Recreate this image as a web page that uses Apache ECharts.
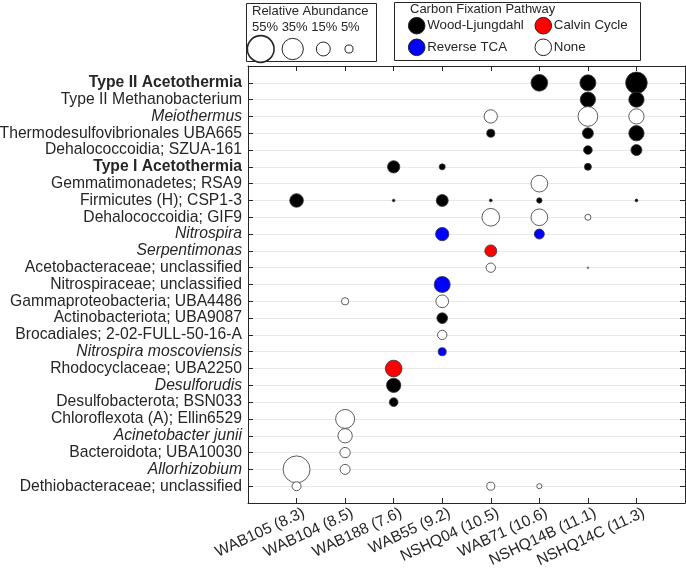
<!DOCTYPE html>
<html>
<head>
<meta charset="utf-8">
<script src="https://cdn.jsdelivr.net/npm/echarts@6/dist/echarts.min.js"></script>
<style>html,body{margin:0;padding:0;background:#fff}#c{width:686px;height:580px}</style>
</head>
<body>
<div id="c"></div>
<script>
// ---------- DATA ----------
const samples = ['WAB105 (8.3)','WAB104 (8.5)','WAB188 (7.6)','WAB55 (9.2)','NSHQ04 (10.5)','WAB71 (10.6)','NSHQ14B (11.1)','NSHQ14C (11.3)'];
const taxa = ['Type II Acetothermia','Type II Methanobacterium','Meiothermus','Thermodesulfovibrionales UBA665','Dehalococcoidia; SZUA-161','Type I Acetothermia','Gemmatimonadetes; RSA9','Firmicutes (H); CSP1-3','Dehalococcoidia; GIF9','Nitrospira','Serpentimonas','Acetobacteraceae; unclassified','Nitrospiraceae; unclassified','Gammaproteobacteria; UBA4486','Actinobacteriota; UBA9087','Brocadiales; 2-02-FULL-50-16-A','Nitrospira moscoviensis','Rhodocyclaceae; UBA2250','Desulforudis','Desulfobacterota; BSN033','Chloroflexota (A); Ellin6529','Acinetobacter junii','Bacteroidota; UBA10030','Allorhizobium','Dethiobacteraceae; unclassified'];
const taxaStyle = ['b','n','i','n','n','b','n','n','n','i','i','n','n','n','n','n','i','n','i','n','n','i','n','i','n'];
// pathway per taxon: W = Wood-Ljungdahl, C = Calvin Cycle, R = Reverse TCA, N = None
const taxaPathway = ['W','W','N','W','W','W','N','W','N','R','C','N','R','N','W','N','R','C','W','W','N','N','N','N','N'];
// relative abundance (%) per sample, indexed by taxon (null = absent)
const abWAB105  = [null,null,null,null,null,null,null,14.4,null,null,null,null,null,null,null,null,null,null,null,null,null,null,null,56,6.2];
const abWAB104  = [null,null,null,null,null,null,null,null,null,null,null,null,null,4.1,null,null,null,null,null,null,27.8,15.8,8.2,7.7,null];
const abWAB188  = [null,null,null,null,null,11.7,null,0.5,null,null,null,null,null,null,null,null,null,21.5,15.8,5.8,null,null,null,null,null];
const abWAB55   = [null,null,null,null,null,2.8,null,11,null,13.7,null,null,19.7,12.4,8.8,6.7,5,null,null,null,null,null,null,null,null];
const abNSHQ04  = [null,null,13.7,5,null,null,null,0.6,24,null,11,6.7,null,null,null,null,null,null,null,null,null,null,null,null,5];
const abWAB71   = [21.5,null,null,null,null,null,21.5,2.2,21.5,7.7,null,null,null,null,null,null,null,null,null,null,null,null,null,null,2];
const abNSHQ14B = [19.7,18,30,9.3,5.8,3.8,null,null,2.8,null,null,0.2,null,null,null,null,null,null,null,null,null,null,null,null,null];
const abNSHQ14C = [36,18,18,18,9.3,null,null,0.6,null,null,null,null,null,null,null,null,null,null,null,null,null,null,null,null,null];
const abundance = [abWAB105,abWAB104,abWAB188,abWAB55,abNSHQ04,abWAB71,abNSHQ14B,abNSHQ14C];
const sizeLegend = [55,35,15,5];
const pathways = [
  {key:'W', name:'Wood-Ljungdahl', color:'#000000'},
  {key:'C', name:'Calvin Cycle', color:'#ff0000'},
  {key:'R', name:'Reverse TCA', color:'#0000ff'},
  {key:'N', name:'None', color:'#ffffff'}
];

// ---------- CHART ----------
const FONT = 'Liberation Sans, Arial, Helvetica, sans-serif';
const TXT = '#262626';
const sizeOf = v => 3.6 * Math.sqrt(v);

const series = pathways.map(p => {
  const data = [];
  abundance.forEach((col, si) => {
    col.forEach((v, ti) => {
      if (v != null && taxaPathway[ti] === p.key) data.push([si + 1, ti + 1, v]);
    });
  });
  return {
    type: 'scatter', name: p.name, data: data, xAxisIndex: 0, yAxisIndex: 0,
    symbolSize: d => Math.max(sizeOf(d[2]), 1.5),
    itemStyle: {color: p.color, borderColor: '#333333', borderWidth: 0.8, opacity: 1},
    emphasis: {disabled: true}, z: 5
  };
});

const chart = echarts.init(document.getElementById('c'), null, {renderer: 'canvas'});

const legendGraphics = [];
// size legend box
legendGraphics.push({type:'rect', shape:{x:246.5, y:3.5, width:130, height:58}, style:{fill:'#fff', stroke:TXT, lineWidth:1}});
legendGraphics.push({type:'text', x:252, y:11, style:{text:'Relative Abundance', font:'13px '+FONT, fill:TXT, textVerticalAlign:'middle'}});
legendGraphics.push({type:'text', x:252, y:27, style:{text:sizeLegend.map(v=>v+'%').join(' '), font:'13px '+FONT, fill:TXT, textVerticalAlign:'middle'}});
const sizeCx = [260.7, 292.7, 323.3, 349];
sizeLegend.forEach((v, i) => {
  legendGraphics.push({type:'circle', shape:{cx:sizeCx[i], cy:49, r:sizeOf(v)/2}, style:{fill:'#fff', stroke:TXT, lineWidth: i===0?1.6:1}});
});
// pathway legend box
legendGraphics.push({type:'rect', shape:{x:394.5, y:2.5, width:246, height:58}, style:{fill:'#fff', stroke:TXT, lineWidth:1}});
legendGraphics.push({type:'text', x:410, y:9, style:{text:'Carbon Fixation Pathway', font:'13px '+FONT, fill:TXT, textVerticalAlign:'middle'}});
const lgPos = [[416.7,25.7],[543.3,25.7],[416.7,47.3],[543.3,47.3]];
pathways.forEach((p, i) => {
  legendGraphics.push({type:'circle', shape:{cx:lgPos[i][0], cy:lgPos[i][1], r:8.3}, style:{fill:p.color, stroke:'#222', lineWidth:1}});
  legendGraphics.push({type:'text', x:lgPos[i][0]+10.5, y:lgPos[i][1], style:{text:p.name, font:'13.3px '+FONT, fill:TXT, textVerticalAlign:'middle'}});
});

const lineOn = {show:true, onZero:false, lineStyle:{color:TXT, width:1}};
const tickIn = {show:true, inside:true, length:5, lineStyle:{color:TXT}};
const nX = samples.length + 1, nY = taxa.length + 1;
chart.setOption({
  animation: false,
  backgroundColor: '#fff',
  grid: [
    {left: 248, right: 1, top: 66, bottom: 77, containLabel: false, outerBoundsMode: 'none'},
    // label-only grid, shifted slightly right so rotated labels end just past their ticks
    {left: 252, right: -3, top: 66, bottom: 77, containLabel: false, outerBoundsMode: 'none'}
  ],
  xAxis: [
    {gridIndex:0, type:'value', min:0, max:nX, interval:1, position:'bottom',
     axisLine: lineOn, axisTick: tickIn, splitLine:{show:false}, axisLabel:{show:false}},
    {gridIndex:0, type:'value', min:0, max:nX, interval:1, position:'top',
     axisLine: lineOn, axisTick: tickIn, splitLine:{show:false}, axisLabel:{show:false}},
    {gridIndex:1, type:'value', min:0, max:nX, interval:1, position:'bottom',
     axisLine:{show:false}, axisTick:{show:false}, splitLine:{show:false},
     axisLabel:{rotate:25, margin:2, align:'right', verticalAlign:'top', fontSize:15.5, fontFamily:FONT, color:TXT,
       formatter: v => (v>=1 && v<=samples.length) ? samples[v-1] : ''}}
  ],
  yAxis: [
    {gridIndex:0, type:'value', min:0, max:nY, interval:1, inverse:true, position:'left',
     axisLine: lineOn, axisTick: tickIn,
     splitLine:{show:true, lineStyle:{color:'#e8e8e8', width:1}},
     axisLabel:{margin:6, fontSize:15.7, fontFamily:FONT, color:TXT,
       formatter: v => (v>=1 && v<=taxa.length) ? '{'+taxaStyle[v-1]+'|'+taxa[v-1]+'}' : '',
       rich:{
         n:{fontSize:15.7, fontFamily:FONT, color:TXT},
         b:{fontSize:15.7, fontFamily:FONT, color:TXT, fontWeight:'bold'},
         i:{fontSize:15.7, fontFamily:FONT, color:TXT, fontStyle:'italic'}
       }}},
    {gridIndex:0, type:'value', min:0, max:nY, interval:1, inverse:true, position:'right',
     axisLine: lineOn, axisTick: tickIn, splitLine:{show:false}, axisLabel:{show:false}},
    {gridIndex:1, type:'value', min:0, max:nY, show:false}
  ],
  series: series,
  graphic: legendGraphics
});
</script>
</body>
</html>
